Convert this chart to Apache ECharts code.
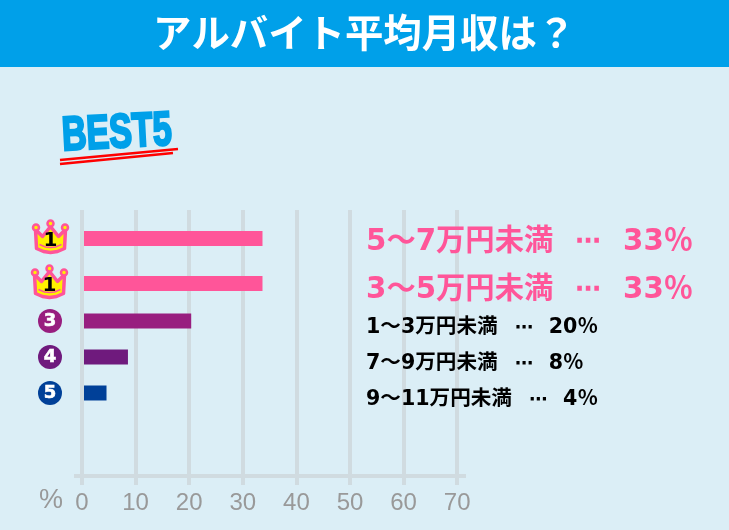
<!DOCTYPE html>
<html>
<head>
<meta charset="utf-8">
<style>html,body{margin:0;padding:0;background:#dbeef6}#main{width:729px;height:530px}</style>
<script src="https://cdn.jsdelivr.net/npm/echarts@6/dist/echarts.min.js"></script>
</head>
<body>
<div id="main"></div>
<script>
var titleText = 'アルバイト平均月収は？';
var topRanges = ['5～7万円未満', '3～5万円未満'];
var topBars = [33.3, 33.3];
var topLabels = [33, 33];
var restRanges = ['1～3万円未満', '7～9万円未満', '9～11万円未満'];
var restBars = [20, 8.2, 4.2];
var restLabels = [20, 8, 4];
var restRanks = ['3', '4', '5'];

var PINK = '#ff5599', GRID = '#d0dbe0', GREY = '#999999';
var restColors = ['#981e7f', '#6f1a7d', '#004098'];
var CJK = '"DejaVu Sans","Noto Sans CJK JP",sans-serif';

// 順位ごとの行テキスト
function rowText(x, y, range, pct, color, size, gapL, gapR) {
	return {
		type: 'text', z: 10,
		style: {
			x: x, y: y, verticalAlign: 'middle',
			text: '{r|' + range + '}{d|⋯}{p|' + pct + '％}',
			rich: {
				r: {fontFamily: CJK, fontWeight: 'bold', fontSize: size, fill: color},
				d: {fontFamily: CJK, fontWeight: 'bold', fontSize: size * 0.88, fill: color, padding: [0, gapR, 0, gapL]},
				p: {fontFamily: CJK, fontWeight: 'bold', fontSize: size, fill: color}
			}
		}
	};
}

// 王冠アイコン
function crown(cx, cy) {
	var tips = [[-14.5, -10], [0, -14], [14.5, -10]];
	var kids = [{
		type: 'polygon',
		shape: {points: [[-15, -8], [-8, -1], [0, -11], [8, -1], [15, -8], [14, 11], [7, 14], [0, 15], [-7, 14], [-14, 11]]},
		style: {fill: '#fff100', stroke: PINK, lineWidth: 3.5, lineJoin: 'round'}
	}, {
		type: 'polyline',
		shape: {points: [[-11, 7], [-5, 9.5], [0, 10], [5, 9.5], [11, 7]]},
		style: {fill: 'none', stroke: PINK, lineWidth: 1.5}
	}];
	tips.forEach(function (t) {
		kids.push({type: 'circle', shape: {cx: t[0], cy: t[1], r: 3}, style: {fill: '#fff100', stroke: PINK, lineWidth: 2.5}});
	});
	kids.push({
		type: 'text',
		style: {x: 0, y: 3, text: '1', align: 'center', verticalAlign: 'middle', fontFamily: 'DejaVu Sans', fontWeight: 'bold', fontSize: 20, fill: '#000'}
	});
	return {type: 'group', x: cx, y: cy, z: 10, children: kids};
}

var graphics = [
	{type: 'rect', z: 0, shape: {x: 0, y: 0, width: 729, height: 67}, style: {fill: '#00a0e9'}},
	{type: 'rect', z: 1, shape: {x: 74, y: 474, width: 392, height: 4}, style: {fill: GRID}},
	{type: 'text', z: 10, style: {x: 51, y: 501, text: '%', align: 'center', verticalAlign: 'middle', fontFamily: 'Liberation Sans', fontSize: 27, fill: GREY}},
	{type: 'text', z: 10, rotation: 3 * Math.PI / 180, x: 62, y: 137, scaleX: 0.71,
		style: {x: 0, y: 0, text: 'BEST5', verticalAlign: 'middle', fontFamily: 'Liberation Sans', fontWeight: 'bold', fontSize: 48, fill: '#00a0e9', stroke: '#00a0e9', lineWidth: 2.5}},
	{type: 'line', z: 9, shape: {x1: 60, y1: 160, x2: 178, y2: 149}, style: {stroke: '#ff0000', lineWidth: 2.5}},
	{type: 'line', z: 9, shape: {x1: 60, y1: 164, x2: 173, y2: 153}, style: {stroke: '#ff0000', lineWidth: 2.5}},
	crown(50.5, 237.5),
	crown(49.5, 282.5)
];
topRanges.forEach(function (r, i) {
	graphics.push(rowText(366, [242, 290][i], r, topLabels[i], PINK, 29.3, 22, 22));
});
restRanges.forEach(function (r, i) {
	graphics.push(rowText(366, [328, 364, 400][i], r, restLabels[i], '#000', 20.6, 17, 16));
});

var rankRich = {};
restRanks.forEach(function (r, i) {
	rankRich['r' + r] = {
		width: 24, height: 24, lineHeight: 26, borderRadius: 12, align: 'center',
		backgroundColor: restColors[i], color: '#fff',
		textBorderColor: '#fff', textBorderWidth: 0.6,
		fontFamily: 'DejaVu Sans', fontWeight: 'bold', fontSize: 18
	};
});

var barAxis = {show: false, type: 'value', min: 0, max: 70};
var option = {
	backgroundColor: '#dbeef6',
	animation: false,
	title: {
		text: titleText, left: 148, top: 8,
		textStyle: {color: '#fff', fontFamily: '"Noto Sans CJK JP"', fontWeight: 'bold', fontSize: 38.4}
	},
	graphic: graphics,
	grid: [
		{left: 82, width: 375.2, top: 210, height: 266},
		{left: 84, width: 375.2, top: 216, height: 90},
		{left: 84, width: 375.2, top: 303, height: 108}
	],
	xAxis: [{
		gridIndex: 0, type: 'value', min: 0, max: 70, interval: 10,
		axisLine: {show: false},
		axisTick: {show: true, length: 9, lineStyle: {color: GRID, width: 4}},
		splitLine: {show: true, lineStyle: {color: GRID, width: 4}},
		axisLabel: {margin: 15, color: GREY, fontFamily: 'Liberation Sans', fontSize: 24}
	},
	Object.assign({gridIndex: 1}, barAxis),
	Object.assign({gridIndex: 2}, barAxis)],
	yAxis: [
		{gridIndex: 0, type: 'category', data: [], show: false},
		{gridIndex: 1, type: 'category', data: topRanges, inverse: true, show: false},
		{
			gridIndex: 2, type: 'category', data: restRanges, inverse: true,
			axisLine: {show: false}, axisTick: {show: false},
			axisLabel: {
				margin: 22, rich: rankRich,
				formatter: function (v, i) { return '{r' + restRanks[i] + '|' + restRanks[i] + '}'; }
			}
		}
	],
	series: [{
		type: 'bar', xAxisIndex: 1, yAxisIndex: 1, barWidth: 15, z: 5,
		itemStyle: {color: PINK}, data: topBars
	}, {
		type: 'bar', xAxisIndex: 2, yAxisIndex: 2, barWidth: 15, z: 5,
		data: restBars.map(function (v, i) {
			return {value: v, itemStyle: {color: restColors[i]}};
		})
	}]
};
var chart = echarts.init(document.getElementById('main'));
chart.setOption(option);
</script>
</body>
</html>
